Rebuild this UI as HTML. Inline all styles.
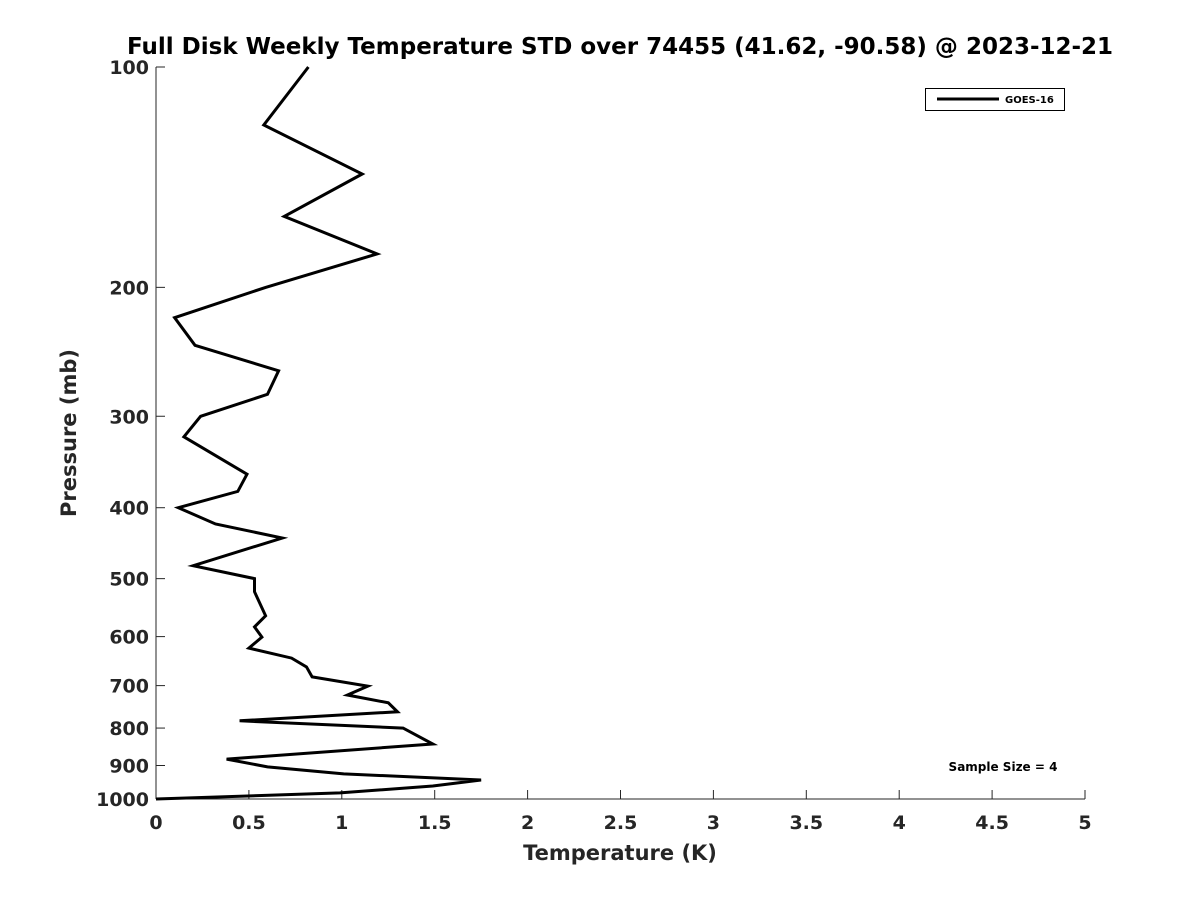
<!DOCTYPE html>
<html><head><meta charset="utf-8">
<style>
body{margin:0;background:#fff;}
svg text{font-family:"DejaVu Sans","Liberation Sans",sans-serif;font-weight:bold;fill:#262626;}
</style></head>
<body>
<svg id="chart" width="1200" height="900" xmlns="http://www.w3.org/2000/svg">
<rect width="1200" height="900" fill="#fff"/>
<text x="620" y="54" text-anchor="middle" font-size="23" style="fill:#000">Full Disk Weekly Temperature STD over 74455 (41.62, -90.58) @ 2023-12-21</text>
<g id="axes"></g>
<path id="series" fill="none" stroke="#000" stroke-width="3" stroke-linejoin="miter"/>
<g>
<rect x="925.5" y="88.5" width="139" height="22" fill="#fff" stroke="#000" stroke-width="1"/>
<line x1="937" y1="99" x2="999" y2="99" stroke="#000" stroke-width="3"/>
<text x="1005" y="103" font-size="10" style="fill:#000">GOES-16</text>
</g>
<text x="1003" y="771" text-anchor="middle" font-size="12" style="fill:#000">Sample Size = 4</text>
<text x="620" y="860" text-anchor="middle" font-size="21">Temperature (K)</text>
<text x="0" y="0" transform="translate(76,433) rotate(-90)" text-anchor="middle" font-size="21">Pressure (mb)</text>
</svg>
<script>
const temps=[0.82,0.58,1.11,0.69,1.19,0.59,0.10,0.21,0.66,0.60,0.24,0.15,0.49,0.44,0.12,0.32,0.68,0.20,0.53,0.53,0.59,0.53,0.57,0.50,0.73,0.81,0.84,1.14,1.03,1.25,1.30,0.45,1.33,1.40,1.49,0.38,0.60,1.01,1.75,1.49,0.99,0.0];
const pressures=[100,120,140,160,180,200,220,240,260,280,300,320,360,380,400,421,440,480,500,521,562,582,601,622,642,660,681,701,721,739,760,782,800,818,841,882,904,924,942,960,981,1000];
const xTicks=[0,0.5,1,1.5,2,2.5,3,3.5,4,4.5,5];
const xTickLabels=["0","0.5","1","1.5","2","2.5","3","3.5","4","4.5","5"];
const yTicks=[100,200,300,400,500,600,700,800,900,1000];
const yTickLabels=["100","200","300","400","500","600","700","800","900","1000"];

const L=156,R=1085,T=67,B=799;
const xs=v=>L+(v-0)/(5-0)*(R-L);
const ys=p=>T+(Math.log10(p)-2)/(3-2)*(B-T);
const NS="http://www.w3.org/2000/svg";
const ax=document.getElementById('axes');
function mk(tag,attrs){const e=document.createElementNS(NS,tag);for(const k in attrs)e.setAttribute(k,attrs[k]);return e;}
let e=mk('line',{x1:L,y1:T,x2:L,y2:B,stroke:'#262626','stroke-width':1});


ax.appendChild(e);
e=mk('line',{x1:L,y1:B,x2:R,y2:B,stroke:'#262626','stroke-width':1});


ax.appendChild(e);
xTicks.forEach((v,i)=>{
  const x=xs(v);
  const t=mk('line',{x1:x,y1:B,x2:x,y2:B-9,stroke:'#262626','stroke-width':1});
  
  
  ax.appendChild(t);
  const l=mk('text',{x:x,y:B+30,'text-anchor':'middle','font-size':19});
  
  
  l.textContent=xTickLabels[i];ax.appendChild(l);
});
yTicks.forEach((p,i)=>{
  const y=ys(p);
  const t=mk('line',{x1:L,y1:y,x2:L+9,y2:y,stroke:'#262626','stroke-width':1});
  
  
  ax.appendChild(t);
  const l=mk('text',{x:L-7,y:y+7,'text-anchor':'end','font-size':19});
  
  
  l.textContent=yTickLabels[i];ax.appendChild(l);
});
document.getElementById('series').setAttribute('d',temps.map((v,i)=>(i?'L':'M')+xs(v).toFixed(1)+','+ys(pressures[i]).toFixed(1)).join(' '));
</script>
</body></html>
